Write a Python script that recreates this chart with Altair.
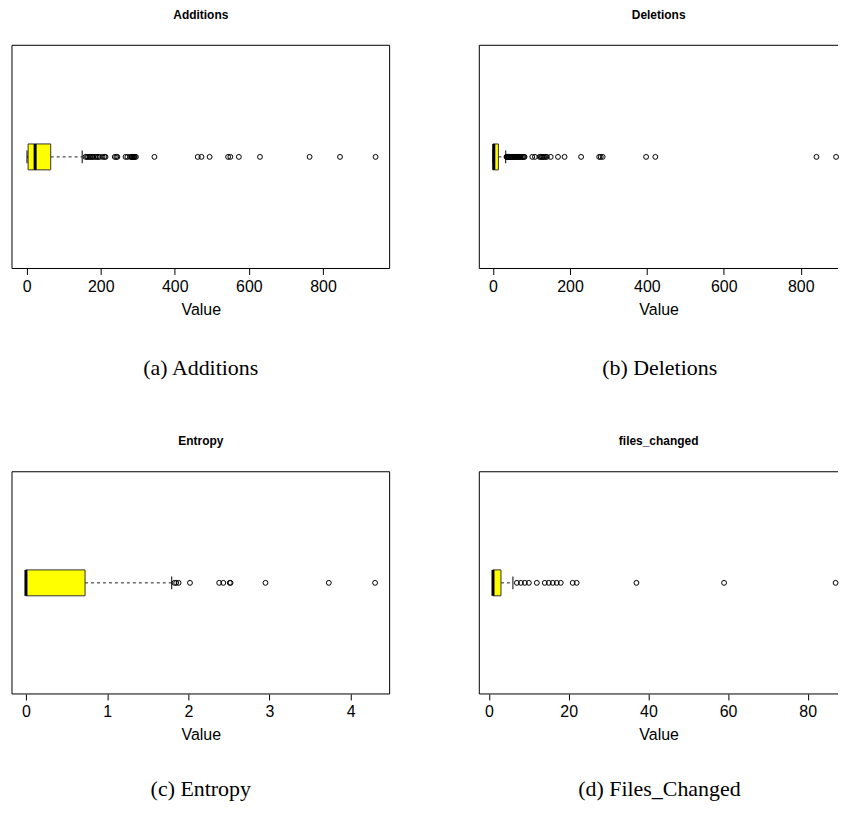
import altair as alt
import pandas as pd

# ---------------- data ----------------
# Additions
add_stats = {"lo": 1, "q1": 4, "med": 23, "q3": 65, "hi": 150}
add_out = [159, 163, 166, 170, 173, 177, 180, 185, 189, 193, 197, 205, 210, 213,
           238, 242, 245, 267, 272, 280, 283, 285, 287, 289, 290, 292, 295,
           345, 462, 472, 494, 544, 550, 573, 630, 764, 846, 942]
add_ticks = [0, 200, 400, 600, 800]

# Deletions
del_stats = {"lo": 0, "q1": 0, "med": 2, "q3": 14, "hi": 33}
del_out = [35, 36, 37, 38, 40, 41, 42, 44, 45, 47, 49, 50, 52, 54, 56, 58, 60, 62,
           64, 66, 68, 70, 72, 75, 78, 80, 82, 102, 109, 121, 124, 127, 130, 133,
           136, 140, 150, 169, 186, 229, 276, 280, 285, 398, 422, 841, 892]
del_ticks = [0, 200, 400, 600, 800]

# Entropy
ent_stats = {"lo": 0, "q1": 0, "med": 0, "q3": 0.728, "hi": 1.795}
ent_out = [1.83, 1.85, 1.88, 2.02, 2.38, 2.43, 2.51, 2.52, 2.95, 3.73, 4.30]
ent_ticks = [0, 1, 2, 3, 4]

# files_changed
fil_stats = {"lo": 1, "q1": 1, "med": 1, "q3": 3, "hi": 6}
fil_out = [7, 8, 9, 10, 12, 14, 15, 16, 17, 18, 21, 22, 37, 59, 87]
fil_ticks = [0, 20, 40, 60, 80]

H_TOP = 224
H_BOT = 223
W_LEFT = 379
W_RIGHT = 360

FONT = "Liberation Sans"


def panel(name, title, caption, stats, out, domain, ticks, width, height,
          right_edge, cap_offset):
    box = pd.DataFrame([{**stats, "var": name}])
    pts = pd.DataFrame({"v": out, "var": name})
    xs = alt.Scale(domain=domain, nice=False, zero=False)
    ax = alt.Axis(values=ticks, domain=False, grid=False, tickSize=6,
                  tickColor="black", tickWidth=1, labelFontSize=16,
                  labelFont=FONT, labelColor="black", labelPadding=4,
                  title="Value", titleFont=FONT, titleFontSize=16,
                  titleFontWeight="normal", titleColor="black", titlePadding=7,
                  labelFlush=False, labelOverlap=False)
    y = alt.Y("var:N", axis=None, title=None)
    base = alt.Chart(box)

    w_hi = base.mark_rule(strokeDash=[3, 3], color="#222", strokeWidth=1).encode(
        x=alt.X("q3:Q", scale=xs, axis=ax), x2="hi:Q", y=y)
    w_lo = base.mark_rule(strokeDash=[3, 3], color="#222", strokeWidth=1).encode(
        x=alt.X("lo:Q", scale=xs, axis=ax), x2="q1:Q", y=y)
    rect = base.mark_bar(size=26, fill="#ffff00", stroke="#333", strokeWidth=1).encode(
        x=alt.X("q1:Q", scale=xs, axis=ax), x2="q3:Q", y=y)
    med = base.mark_tick(thickness=3, size=26, color="black", opacity=1).encode(
        x=alt.X("med:Q", scale=xs, axis=ax), y=y)
    st_lo = base.mark_tick(thickness=1, size=13, color="black", opacity=1).encode(
        x=alt.X("lo:Q", scale=xs, axis=ax), y=y)
    st_hi = base.mark_tick(thickness=1, size=13, color="black", opacity=1).encode(
        x=alt.X("hi:Q", scale=xs, axis=ax), y=y)
    dots = alt.Chart(pts).mark_point(shape="circle", size=24, filled=False,
                                     color="black", strokeWidth=1, opacity=1).encode(
        x=alt.X("v:Q", scale=xs, axis=ax), y=y)

    fr = alt.Chart(box)
    top = fr.mark_rule(color="black", strokeWidth=1).encode(
        x=alt.value(0), x2=alt.value(width), y=alt.value(0))
    bot = fr.mark_rule(color="black", strokeWidth=1).encode(
        x=alt.value(0), x2=alt.value(width), y=alt.value(height))
    left = fr.mark_rule(color="black", strokeWidth=1).encode(
        x=alt.value(0), y=alt.value(0), y2=alt.value(height))
    layers = [w_hi, w_lo, rect, med, st_lo, st_hi, dots, top, bot, left]
    if right_edge:
        right = fr.mark_rule(color="black", strokeWidth=1).encode(
            x=alt.value(width), y=alt.value(0), y2=alt.value(height))
        layers.append(right)

    lay = alt.layer(*layers).properties(
        width=width, height=height,
        title=alt.TitleParams(title, font=FONT, fontSize=12, fontWeight="bold",
                              color="black", offset=23, anchor="middle"))
    return alt.vconcat(
        lay,
        title=alt.TitleParams(caption, orient="bottom", font="Liberation Serif",
                              fontSize=22, fontWeight="normal", color="black",
                              offset=cap_offset, anchor="middle"))


a = panel("Additions", "Additions", "(a) Additions", add_stats, add_out,
          [-39.5, 980], add_ticks, W_LEFT, H_TOP, True, 41)
b = panel("Deletions", "Deletions", "(b) Deletions", del_stats, del_out,
          [-35.7, 897.0], del_ticks, W_RIGHT, H_TOP, False, 41)
c = panel("Entropy", "Entropy", "(c) Entropy", ent_stats, ent_out,
          [-0.172, 4.479], ent_ticks, W_LEFT, H_BOT, True, 36)
d = panel("files_changed", "files_changed", "(d) Files_Changed", fil_stats, fil_out,
          [-2.44, 87.6], fil_ticks, W_RIGHT, H_BOT, False, 36)

chart = alt.vconcat(
    alt.hconcat(a, b, spacing=88),
    alt.hconcat(c, d, spacing=88),
    spacing=56,
).properties(
    padding={"left": 3, "top": -1, "right": 0, "bottom": 0}
).configure_view(strokeWidth=0)

chart.save("out.html", embed_options={"renderer": "svg", "actions": False})
